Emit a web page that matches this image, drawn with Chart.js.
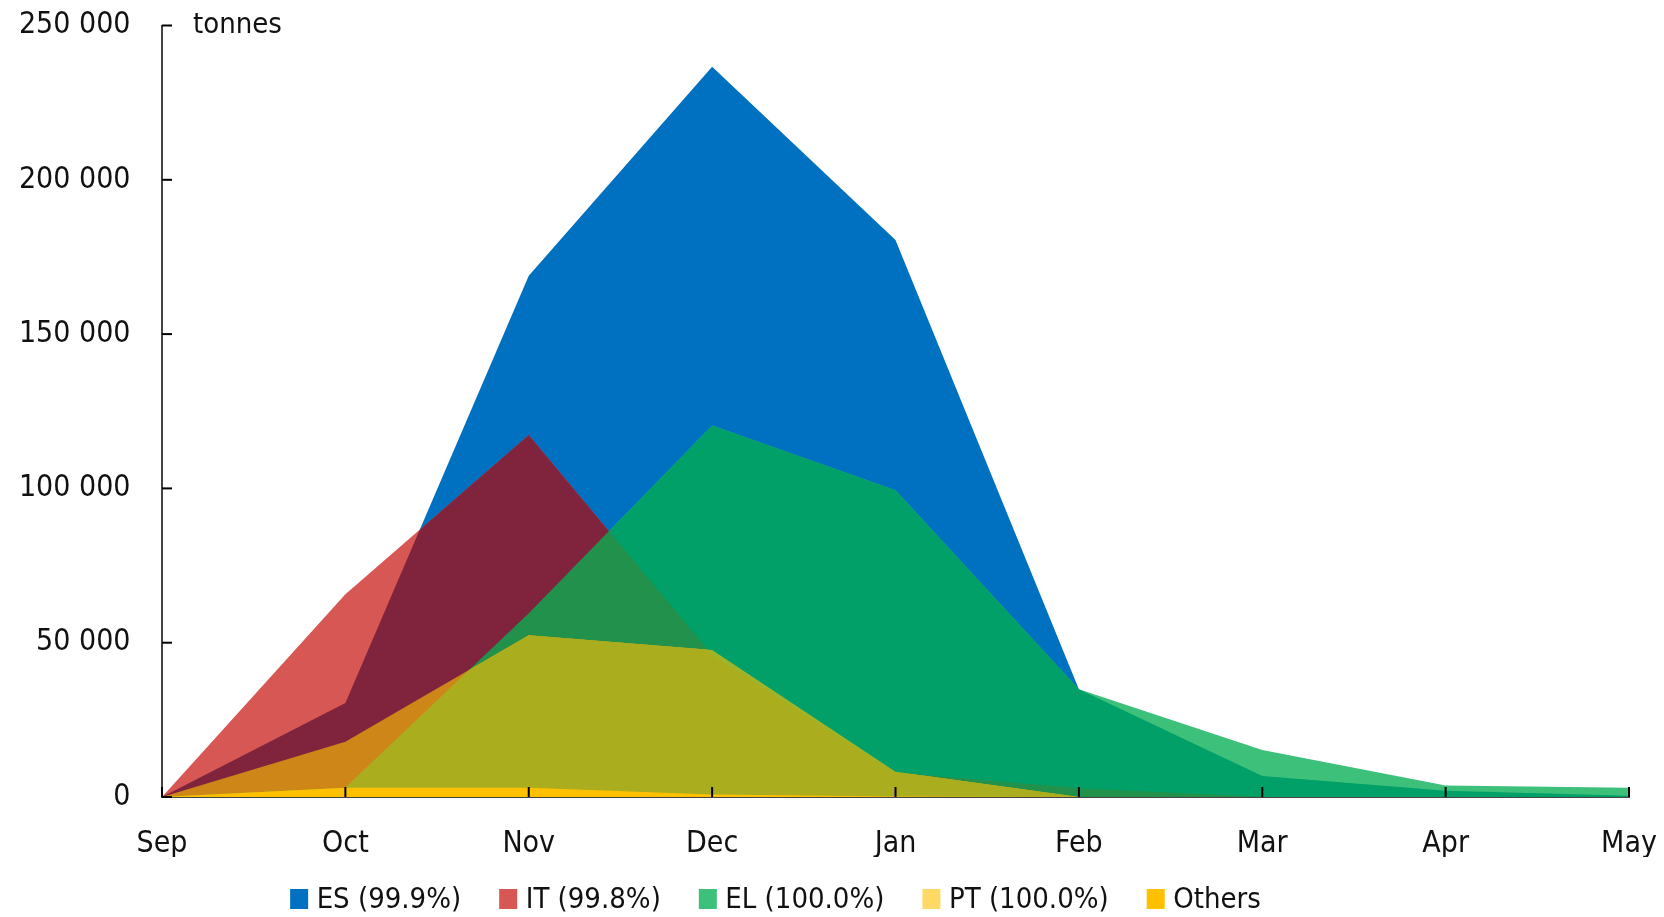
<!DOCTYPE html>
<html><head><meta charset="utf-8">
<script src="https://cdn.jsdelivr.net/npm/chart.js@4.4.1/dist/chart.umd.min.js"></script>
<style>html,body{margin:0;padding:0;background:#fff}#wrap{width:1664px;height:917px;position:relative}</style>
</head><body><div id="wrap"><canvas id="c"></canvas></div>
<script>
// ---- data ----
const months = ['Sep','Oct','Nov','Dec','Jan','Feb','Mar','Apr','May'];
const esValues    = [0, 30500, 168900, 236600, 180500, 34900, 6800, 2000, 400];
const itValues    = [0, 65700, 117300, 46000, 7900, 2800, 0, 0, 0];
const elValues    = [0, 3000, 59500, 120400, 99400, 34900, 15200, 3700, 3000];
const ptValues    = [0, 17900, 52400, 47600, 8200, 0, 0, 0, 0];
const otherValues = [0, 3000, 3000, 800, 200, 0, 0, 0, 0];
const seriesNames = ['ES (99.9%)', 'IT (99.8%)', 'EL (100.0%)', 'PT (100.0%)', 'Others'];
const seriesColors = ['#0070C0', '#D65754', '#3CC07A', '#FFD966', '#FFC000'];
const yTicks = [0, 50000, 100000, 150000, 200000, 250000];
const unitLabel = 'tonnes';
// colour of each overlap of series (indices into the series list)
const overlapColors = [
  [[0], '#0070C0'], [[1], '#D65754'], [[2], '#3CC07A'], [[3], '#FFD966'],
  [[0,1], '#80243E'], [[0,2], '#00A068'],
  [[0,1,2], '#21914B'], [[0,1,3], '#CE8619'], [[0,2,3], '#A0B42A'],
  [[0,1,2,3], '#AAAE1E']
];

const FONT = '"DejaVu Sans Condensed", "DejaVu Sans", sans-serif';
const seriesData = [esValues, itValues, elValues, ptValues, otherValues];

const areaPlugin = {
  id: 'areas',
  beforeDatasetsDraw(chart) {
    const ctx = chart.ctx;
    const y0 = chart.scales.y.getPixelForValue(0);
    const path = (i) => {
      const pts = chart.getDatasetMeta(i).data;
      ctx.beginPath();
      ctx.moveTo(pts[0].x, y0);
      pts.forEach(p => ctx.lineTo(p.x, p.y));
      ctx.lineTo(pts[pts.length - 1].x, y0);
      ctx.closePath();
    };
    ctx.save();
    overlapColors.forEach(([set, color]) => {
      ctx.save();
      for (let k = 0; k < set.length - 1; k++) { path(set[k]); ctx.clip(); }
      path(set[set.length - 1]);
      ctx.fillStyle = color;
      ctx.fill();
      ctx.restore();
    });
    path(4);
    ctx.fillStyle = seriesColors[4];
    ctx.fill();
    ctx.restore();
  },
  afterDraw(chart) {
    const ctx = chart.ctx;
    const xs = chart.scales.x, ys = chart.scales.y;
    const ca = chart.chartArea;
    ctx.save();
    // inward tick marks
    ctx.strokeStyle = '#000';
    ctx.lineWidth = 2;
    ys.ticks.forEach((t, i) => {
      const y = ys.getPixelForTick(i);
      ctx.beginPath(); ctx.moveTo(ca.left, y); ctx.lineTo(ca.left + 10, y); ctx.stroke();
    });
    xs.ticks.forEach((t, i) => {
      const x = xs.getPixelForTick(i);
      ctx.beginPath(); ctx.moveTo(x, ca.bottom); ctx.lineTo(x, ca.bottom - 10); ctx.stroke();
    });
    // unit label
    ctx.fillStyle = '#111';
    ctx.font = '29px ' + FONT;
    ctx.textAlign = 'left';
    ctx.textBaseline = 'alphabetic';
    ctx.fillText(unitLabel, 193, 33);
    // legend
    ctx.font = '29px ' + FONT;
    ctx.textBaseline = 'middle';
    const boxW = 18, boxH = 20, gap = 8.5, itemGap = 38;
    const widths = seriesNames.map(n => ctx.measureText(n).width);
    const total = widths.reduce((a, w) => a + boxW + gap + w, 0) + itemGap * (seriesNames.length - 1);
    let x = 775.5 - total / 2;
    const cy = 899;
    seriesNames.forEach((n, i) => {
      ctx.fillStyle = seriesColors[i];
      ctx.fillRect(x, cy - boxH / 2, boxW, boxH);
      ctx.fillStyle = '#111';
      ctx.fillText(n, x + boxW + gap, cy + 1);
      x += boxW + gap + widths[i] + itemGap;
    });
    ctx.restore();
  }
};

const fmt = v => String(v).replace(/\B(?=(\d{3})+(?!\d))/g, ' ');

new Chart(document.getElementById('c'), {
  type: 'line',
  data: {
    labels: months,
    datasets: seriesNames.map((n, i) => ({
      label: n, data: seriesData[i],
      backgroundColor: seriesColors[i], borderColor: seriesColors[i],
      showLine: false, pointRadius: 0, pointHoverRadius: 0, fill: false
    }))
  },
  options: {
    responsive: true, maintainAspectRatio: false, animation: false,
    layout: { autoPadding: false, padding: { top: 25.5, right: 35, bottom: 60, left: 0 } },
    plugins: { legend: { display: false }, tooltip: { enabled: false } },
    scales: {
      x: {
        type: 'category', offset: false, z: 1,
        grid: { display: false, drawTicks: false },
        border: { display: true, color: '#444', width: 2 },
        ticks: { font: { family: FONT, size: 30 }, color: '#111', padding: 29, maxRotation: 0, autoSkip: false },
        afterFit(s) { s.height = 60; s.paddingLeft = 0; s.paddingRight = 0; s.paddingTop = 0; s.paddingBottom = 0; }
      },
      y: {
        min: 0, max: 250000, z: 1,
        grid: { display: false, drawTicks: false },
        border: { display: true, color: '#444', width: 2 },
        afterBuildTicks(s) { s.ticks = yTicks.map(v => ({ value: v })); },
        ticks: { font: { family: FONT, size: 30 }, color: '#111', padding: 31.5, callback: v => fmt(v) },
        afterFit(s) { s.width = 162; s.paddingLeft = 0; s.paddingRight = 0; s.paddingTop = 0; s.paddingBottom = 0; }
      }
    }
  },
  plugins: [areaPlugin]
});
</script></body></html>
